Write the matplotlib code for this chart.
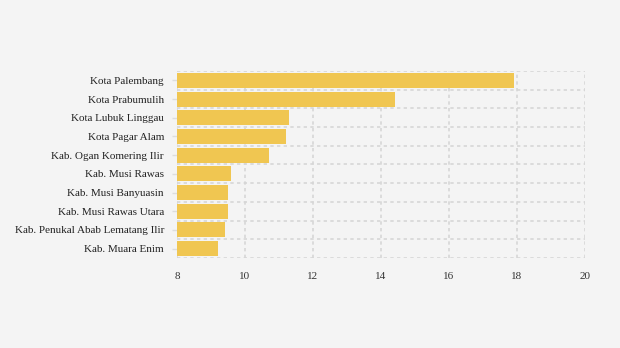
import matplotlib.pyplot as plt
import numpy as np

plt.rcParams['font.family'] = ['Liberation Serif', 'DejaVu Serif']

wilayah = ['Kota Palembang', 'Kota Prabumulih', 'Kota Lubuk Linggau',
           'Kota Pagar Alam', 'Kab. Ogan Komering Ilir', 'Kab. Musi Rawas',
           'Kab. Musi Banyuasin', 'Kab. Musi Rawas Utara',
           'Kab. Penukal Abab Lematang Ilir', 'Kab. Muara Enim']
nilai = [17.91, 14.41, 11.29, 11.21, 10.71, 9.59, 9.50, 9.50, 9.41, 9.21]
xticks = [8, 10, 12, 14, 16, 18, 20]

bg = '#f4f4f4'
fig = plt.figure(figsize=(6.2, 3.48), dpi=100, facecolor=bg)
ax = fig.add_axes([0.2855, 0.2586, 0.658, 0.5374], facecolor=bg)

y = np.arange(len(wilayah))
ax.barh(y, np.array(nilai) - 8, left=8, height=0.8, color='#f0c651', zorder=2)

ax.set_xlim(8, 20)
ax.set_ylim(len(wilayah) - 0.5, -0.5)
ax.set_xticks(xticks)
ax.set_xticklabels([str(t) for t in xticks], fontsize=8, color='#333333')
ax.set_yticks(y)
ax.set_yticklabels(wilayah, fontsize=8, color='#222222')

ax.tick_params(axis='x', length=0, pad=10)
ax.tick_params(axis='y', length=3.6, color='#dddddd', width=1, pad=5.8)

# dotted grid: vertical at x ticks, horizontal between categories
grid_kw = dict(color='#d6d6d6', linestyle=(0, (2, 2)), linewidth=1.2, zorder=0)
for t in xticks:
    ax.axvline(t, **grid_kw)
for b in np.arange(-0.5, len(wilayah)):
    ax.axhline(b, **grid_kw)

for s in ax.spines.values():
    s.set_visible(False)

fig.savefig('out.png', facecolor=bg)
